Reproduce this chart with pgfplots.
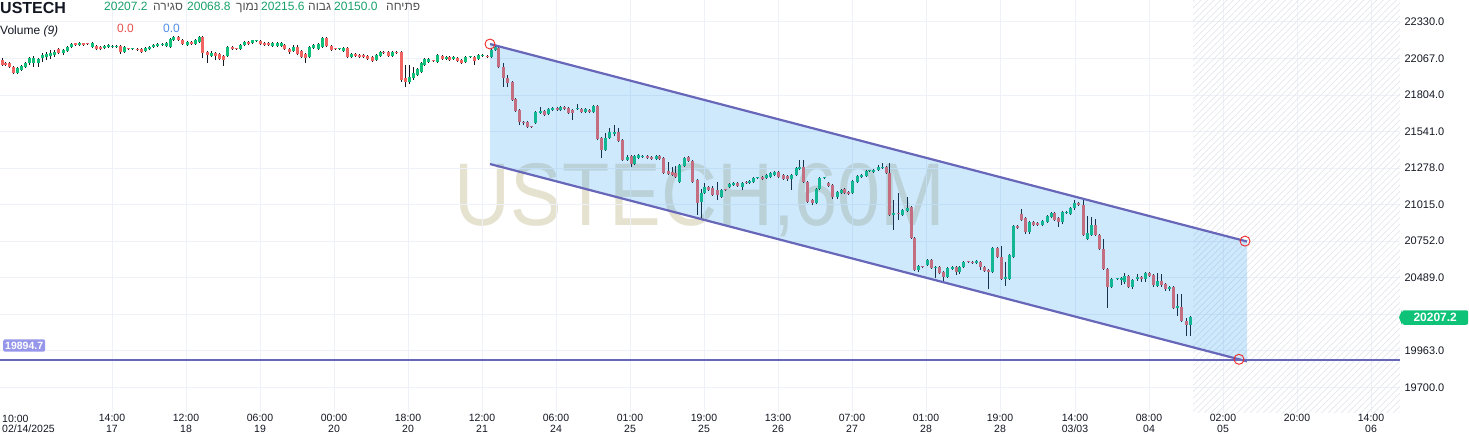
\documentclass[border=0pt]{standalone}
\usepackage{fontspec}
\setmainfont{Liberation Sans}
\newfontfamily\heb[Script=Hebrew]{Liberation Sans}
\TeXXeTstate=1
\usepackage{pgfplots}
\usepackage{pgfplotstable}
\pgfplotsset{compat=1.18}
\usetikzlibrary{patterns.meta}

\definecolor{upc}{RGB}{16,192,120}
\definecolor{dnc}{RGB}{242,100,98}
\definecolor{wickc}{RGB}{19,23,34}
\definecolor{chanfill}{RGB}{33,150,243}
\definecolor{chanline}{RGB}{103,102,184}
\definecolor{circred}{RGB}{240,40,40}
\definecolor{gridc}{RGB}{238,241,248}
\definecolor{hatchc}{RGB}{228,230,236}
\definecolor{tickc}{RGB}{19,23,34}
\definecolor{hdrgreen}{RGB}{22,160,105}
\definecolor{hdrgray}{RGB}{80,80,80}
\definecolor{lvlbox}{RGB}{150,150,235}
\definecolor{lastbox}{RGB}{14,194,120}
\definecolor{wmark}{RGB}{200,190,150}

% hourly candles, x = position on the time axis
\pgfplotstableread{
x o h l c
2 22056 22070 22013 22020
5 22034 22042 22013 22020
9 22034 22042 21998 22006
13 22006 22013 21955 21962
17 21962 22006 21955 21998
21 21984 22020 21977 22013
25 22006 22042 21998 22034
29 22034 22078 22020 22070
33 22034 22085 22006 22070
38 22034 22070 22006 22063
42 22070 22106 22042 22092
46 22078 22114 22056 22099
50 22085 22128 22063 22106
54 22092 22128 22078 22114
58 22135 22142 22099 22106
63 22106 22135 22092 22128
67 22121 22157 22114 22150
71 22150 22178 22142 22171
75 22178 22180 22157 22164
79 22164 22186 22157 22178
83 22178 22181 22157 22164
87 22172 22178 22164 22170
92 22150 22186 22142 22178
96 22157 22164 22128 22135
100 22150 22157 22128 22135
104 22142 22164 22135 22157
108 22150 22171 22142 22164
112 22150 22164 22142 22157
116 22150 22164 22142 22157
120 22157 22164 22099 22114
124 22114 22157 22106 22150
128 22136 22142 22128 22134
132 22134 22142 22128 22136
137 22135 22142 22121 22128
141 22135 22142 22106 22114
145 22121 22150 22114 22142
149 22135 22157 22128 22150
153 22150 22171 22142 22164
157 22157 22178 22150 22171
162 22164 22178 22157 22171
166 22157 22186 22150 22178
170 22150 22214 22145 22207
173 22200 22229 22193 22222
178 22222 22229 22193 22200
182 22200 22207 22164 22171
187 22164 22193 22157 22186
191 22186 22193 22164 22171
195 22171 22207 22164 22200
199 22186 22229 22178 22222
202 22222 22229 22070 22106
207 22114 22121 22034 22092
211 22085 22121 22078 22106
215 22106 22114 22056 22085
219 22099 22106 22056 22063
223 22085 22092 22013 22056
227 22085 22157 22078 22150
232 22150 22157 22128 22135
236 22136 22142 22128 22134
240 22135 22171 22128 22164
244 22164 22193 22157 22186
248 22186 22193 22164 22171
252 22178 22202 22171 22200
256 22192 22200 22186 22194
260 22193 22200 22164 22171
264 22178 22186 22157 22164
268 22178 22186 22157 22164
272 22157 22186 22150 22178
277 22157 22186 22150 22178
281 22157 22186 22150 22178
284 22164 22171 22128 22135
289 22135 22142 22099 22114
293 22121 22164 22114 22150
297 22150 22164 22092 22099
301 22121 22128 22070 22078
305 22099 22106 22034 22070
309 22078 22157 22070 22150
313 22142 22171 22135 22164
318 22135 22178 22128 22171
322 22150 22222 22142 22214
326 22214 22222 22150 22157
331 22157 22164 22121 22128
335 22136 22142 22128 22134
339 22134 22142 22128 22136
343 22121 22150 22114 22142
347 22142 22150 22070 22078
351 22078 22106 22070 22099
355 22099 22106 22078 22085
359 22092 22099 22070 22078
363 22092 22099 22070 22078
367 22085 22092 22056 22063
372 22078 22085 22042 22049
376 22056 22099 22049 22092
380 22085 22121 22078 22114
383 22114 22121 22099 22106
388 22114 22121 22078 22085
392 22085 22121 22078 22114
396 22114 22121 22099 22106
401 22114 22121 21898 21912
405 21926 22020 21862 21898
409 21898 22020 21883 21934
413 21926 22006 21912 21962
417 21948 21998 21941 21991
421 21970 22042 21962 22034
424 22020 22070 22013 22063
428 22042 22070 22034 22063
433 22050 22056 22042 22048
437 22042 22099 22034 22092
442 22085 22092 22056 22063
446 22063 22085 22056 22078
449 22078 22085 22049 22056
453 22063 22085 22056 22078
457 22070 22078 22042 22049
461 22056 22063 22027 22034
465 22042 22085 22034 22078
470 22077 22085 22070 22079
474 22078 22085 22020 22049
478 22063 22099 22056 22092
482 22085 22099 22078 22092
487 22085 22092 22070 22078
491 22078 22135 22070 22128
495 22128 22157 22121 22150
498 22142 22157 21998 22006
503 22006 22034 21862 21926
507 21926 21948 21862 21890
512 21898 21905 21761 21768
515 21775 21782 21682 21689
519 21696 21703 21588 21610
523 21610 21617 21588 21599
527 21610 21617 21566 21574
531 21575 21580 21566 21573
535 21602 21689 21595 21682
540 21674 21718 21667 21689
544 21689 21696 21653 21660
548 21667 21710 21660 21703
552 21696 21718 21689 21710
557 21710 21718 21689 21696
560 21696 21725 21689 21718
564 21718 21725 21696 21703
568 21710 21718 21667 21674
572 21696 21703 21624 21674
577 21700 21739 21696 21703
581 21703 21710 21674 21682
585 21682 21710 21674 21703
589 21696 21703 21674 21682
593 21682 21732 21674 21725
597 21725 21732 21480 21487
601 21494 21502 21350 21408
605 21408 21530 21401 21494
609 21494 21566 21487 21538
614 21523 21588 21509 21538
618 21538 21566 21466 21473
622 21480 21487 21329 21336
627 21336 21372 21329 21358
631 21365 21372 21286 21307
634 21307 21372 21300 21365
638 21350 21379 21343 21372
642 21358 21372 21350 21365
647 21365 21372 21343 21350
651 21358 21365 21336 21343
656 21343 21372 21336 21365
659 21365 21372 21336 21343
663 21350 21358 21235 21242
668 21257 21322 21228 21235
672 21250 21286 21221 21228
675 21242 21293 21206 21214
679 21178 21307 21170 21300
684 21293 21358 21286 21350
688 21358 21365 21322 21329
692 21329 21336 21170 21178
697 21192 21199 20940 21026
701 21034 21127 20904 21098
704 21098 21170 21091 21142
708 21142 21149 21113 21120
712 21134 21149 21077 21084
717 21120 21178 21048 21084
721 21070 21127 21062 21120
725 21121 21127 21113 21119
729 21142 21170 21134 21163
733 21156 21178 21149 21170
737 21170 21178 21142 21149
742 21142 21178 21120 21170
746 21178 21185 21163 21170
749 21170 21192 21163 21185
753 21178 21214 21170 21206
757 21205 21214 21199 21207
762 21214 21221 21192 21199
766 21206 21235 21199 21228
770 21214 21250 21206 21242
774 21228 21257 21221 21250
778 21250 21257 21206 21214
783 21228 21235 21192 21199
787 21221 21228 21185 21199
791 21199 21235 21120 21228
796 21228 21286 21221 21278
799 21271 21336 21264 21286
803 21286 21336 21170 21178
807 21178 21185 21026 21034
812 21048 21055 21012 21026
816 21026 21134 21019 21127
819 21127 21214 21120 21206
824 21205 21214 21199 21207
828 21170 21178 21142 21149
832 21156 21163 21055 21070
837 21070 21113 21055 21106
841 21098 21127 21091 21120
844 21127 21134 21091 21098
848 21106 21113 21084 21091
852 21098 21192 21091 21185
857 21178 21228 21170 21221
861 21214 21235 21206 21228
866 21221 21264 21214 21257
869 21256 21264 21250 21258
873 21250 21271 21242 21264
878 21264 21300 21257 21286
882 21278 21314 21271 21286
886 21286 21293 21235 21242
889 21242 21314 20933 20940
893 20940 21048 20832 20954
898 20954 21098 20904 20947
902 20940 20983 20933 20976
907 20969 21070 20962 20990
911 20998 21005 20767 20774
914 20774 20782 20537 20544
918 20544 20580 20530 20573
922 20567 20573 20558 20565
927 20580 20623 20573 20616
931 20616 20623 20551 20558
935 20558 20573 20486 20566
939 20566 20573 20515 20522
943 20530 20537 20458 20494
947 20494 20566 20486 20558
952 20551 20573 20544 20566
956 20566 20573 20508 20530
959 20530 20573 20515 20566
963 20566 20609 20558 20602
968 20603 20609 20594 20601
972 20602 20609 20587 20594
976 20594 20616 20587 20609
980 20602 20609 20544 20566
984 20566 20573 20530 20537
988 20544 20551 20407 20530
992 20530 20710 20522 20702
997 20702 20710 20630 20638
1001 20638 20717 20472 20479
1005 20479 20602 20429 20494
1009 20479 20659 20472 20652
1013 20638 20868 20630 20861
1017 20861 20868 20839 20846
1021 20947 20983 20897 20904
1025 20918 20926 20803 20818
1029 20818 20897 20803 20890
1033 20890 20897 20861 20868
1037 20882 20890 20861 20868
1042 20868 20904 20861 20897
1047 20890 20940 20882 20933
1051 20926 20962 20918 20954
1054 20954 20962 20897 20904
1058 20918 20926 20854 20890
1062 20890 20969 20875 20962
1066 20954 20969 20947 20962
1070 20947 20998 20940 20990
1074 20990 21048 20976 21026
1078 21026 21034 21005 21012
1083 21012 21062 20789 20796
1087 20767 20933 20760 20810
1091 20796 20926 20789 20868
1095 20868 20911 20789 20796
1099 20796 20803 20688 20695
1103 20695 20767 20544 20551
1107 20551 20558 20270 20422
1111 20422 20486 20414 20479
1117 20478 20486 20472 20480
1121 20472 20494 20436 20486
1124 20458 20522 20443 20501
1128 20501 20508 20414 20422
1132 20422 20479 20407 20472
1137 20479 20515 20465 20494
1141 20494 20501 20458 20479
1145 20479 20530 20458 20522
1149 20522 20530 20494 20501
1153 20508 20515 20422 20436
1157 20429 20522 20422 20465
1161 20465 20515 20422 20436
1165 20443 20450 20393 20407
1169 20407 20429 20393 20422
1173 20422 20429 20263 20270
1177 20270 20371 20213 20285
1181 20278 20371 20170 20177
1186 20177 20198 20068 20150
1190 20150 20215.6 20068.8 20207.2
}\candles

\begin{document}
\begin{tikzpicture}
% watermark behind everything
\node[text=wmark, opacity=0.45, xscale=0.87, font=\fontsize{89}{89}\selectfont, inner sep=0pt] at (700pt,240pt) {USTECH,60M};

\begin{axis}[
    at={(0pt,28pt)}, anchor=south west,
    scale only axis, width=1400pt, height=412pt,
    xmin=0, xmax=1400, ymin=19521.6, ymax=22488,
    axis line style={draw=none},
    tick style={draw=none},
    grid=major,
    grid style={draw=gridc, line width=1pt},
    xtick={112,186,260,334,408,482,556,630,704,778,852,926,1000,1075,1149,1223,1297,1371},
    xticklabels={{14:00\\17},{12:00\\18},{06:00\\19},{00:00\\20},{18:00\\20},{12:00\\21},{06:00\\24},{01:00\\25},{19:00\\25},{13:00\\26},{07:00\\27},{01:00\\28},{19:00\\28},{14:00\\03/03},{08:00\\04},{02:00\\05},{20:00},{14:00\\06}},
    xticklabel style={align=center, anchor=north, font=\fontsize{10.5}{10.5}\selectfont, text=tickc, inner sep=2pt},
    ytick={19700,19963,20226,20489,20752,21015,21278,21541,21804,22067,22330},
    yticklabels={19700.0,19963.0,{},20489.0,20752.0,21015.0,21278.0,21541.0,21804.0,22067.0,22330.0},
    yticklabel pos=right,
    yticklabel style={anchor=west, font=\fontsize{11}{11}\selectfont, text=tickc, xshift=1pt},
    candle/.style={draw=none, mark=none, forget plot,
      error bars/y dir=plus, error bars/y explicit, error bars/error mark=none},
]
% future area hatching
\addplot[draw=none, pattern={Lines[angle=45,distance=4.6pt,line width=0.7pt]}, pattern color=hatchc]
  coordinates {(1193,19521.6) (1400,19521.6) (1400,22488) (1193,22488)} -- cycle;

% wicks
\addplot[candle, error bars/error bar style={draw=wickc, line width=1pt}]
  table[x=x, y=l, y error plus expr=\thisrow{h}-\thisrow{l}] {\candles};
% rising bodies
\addplot[candle, restrict y to domain=0:30000, error bars/error bar style={draw=upc, line width=3pt}]
  table[x=x, y expr={\thisrow{c}>=\thisrow{o} ? \thisrow{o} : -100},
        y error plus expr={max(\thisrow{c}-\thisrow{o},9)}] {\candles};
% falling bodies
\addplot[candle, restrict y to domain=0:30000, error bars/error bar style={draw=dnc, line width=3pt}]
  table[x=x, y expr={\thisrow{c}<\thisrow{o} ? \thisrow{c} : -100},
        y error plus expr={max(\thisrow{o}-\thisrow{c},9)}] {\candles};

% channel
\addplot[draw=none, fill=chanfill, fill opacity=0.22]
  coordinates {(490,22171) (1247,20749) (1247,19886) (490,21307)} -- cycle;
\addplot[chanline, line width=2.2pt] coordinates {(490,22171) (1247,20749)};
\addplot[chanline, line width=2.2pt] coordinates {(490,21307) (1247,19886)};
\addplot[chanline, line width=2.2pt] coordinates {(0,19894.7) (1400,19894.7)};
\addplot[only marks, mark=o, mark size=5pt, draw=circred, line width=0.9pt]
  coordinates {(490,22171) (1245,20752) (1239,19901)};
\end{axis}

% first time label
\node[anchor=north west, align=left, font=\fontsize{10.5}{10.5}\selectfont, text=tickc, inner sep=0pt] at (2pt,25.5pt) {10:00\\02/14/2025};

% header
\node[anchor=base west, inner sep=0pt, font=\bfseries\fontsize{16}{16}\selectfont, text=tickc] at (0pt,426.5pt) {USTECH};
\begin{scope}[every node/.style={anchor=base west, inner sep=0pt, font=\fontsize{12}{12}\selectfont}]
\node[text=hdrgreen] at (104pt,429.5pt) {20207.2};
\node[text=hdrgray] at (153pt,429.5pt) {\heb\beginR סגירה\endR};
\node[text=hdrgreen] at (187pt,429.5pt) {20068.8};
\node[text=hdrgray] at (236pt,429.5pt) {\heb\beginR נמוך\endR};
\node[text=hdrgreen] at (261pt,429.5pt) {20215.6};
\node[text=hdrgray] at (308pt,429.5pt) {\heb\beginR גבוה\endR};
\node[text=hdrgreen] at (334pt,429.5pt) {20150.0};
\node[text=hdrgray] at (386pt,429.5pt) {\heb\beginR פתיחה\endR};
\node[text=tickc] at (0pt,405.5pt) {Volume \textit{(9)}};
\node[text={rgb,255:red,232;green,80;blue,80}] at (117pt,407pt) {0.0};
\node[text={rgb,255:red,80;green,140;blue,232}] at (163pt,407pt) {0.0};
\end{scope}

% price labels
\node[fill=lvlbox, text=white, rounded corners=2pt, inner xsep=2pt, inner ysep=2.5pt, font=\bfseries\fontsize{10.5}{10.5}\selectfont, anchor=west] at (3pt,94.5pt) {19894.7};
\node[fill=lastbox, text=white, rounded corners=2pt, inner xsep=6pt, inner ysep=3pt, font=\bfseries\fontsize{12}{12}\selectfont, minimum width=66pt, anchor=west] (lp) at (1402pt,122.5pt) {20207.2};
\fill[lastbox] (lp.north west) -- (1399pt,122.5pt) -- (lp.south west) -- cycle;

\pgfresetboundingbox
\path[use as bounding box] (0,0) rectangle (1469pt,440pt);
\end{tikzpicture}
\end{document}
